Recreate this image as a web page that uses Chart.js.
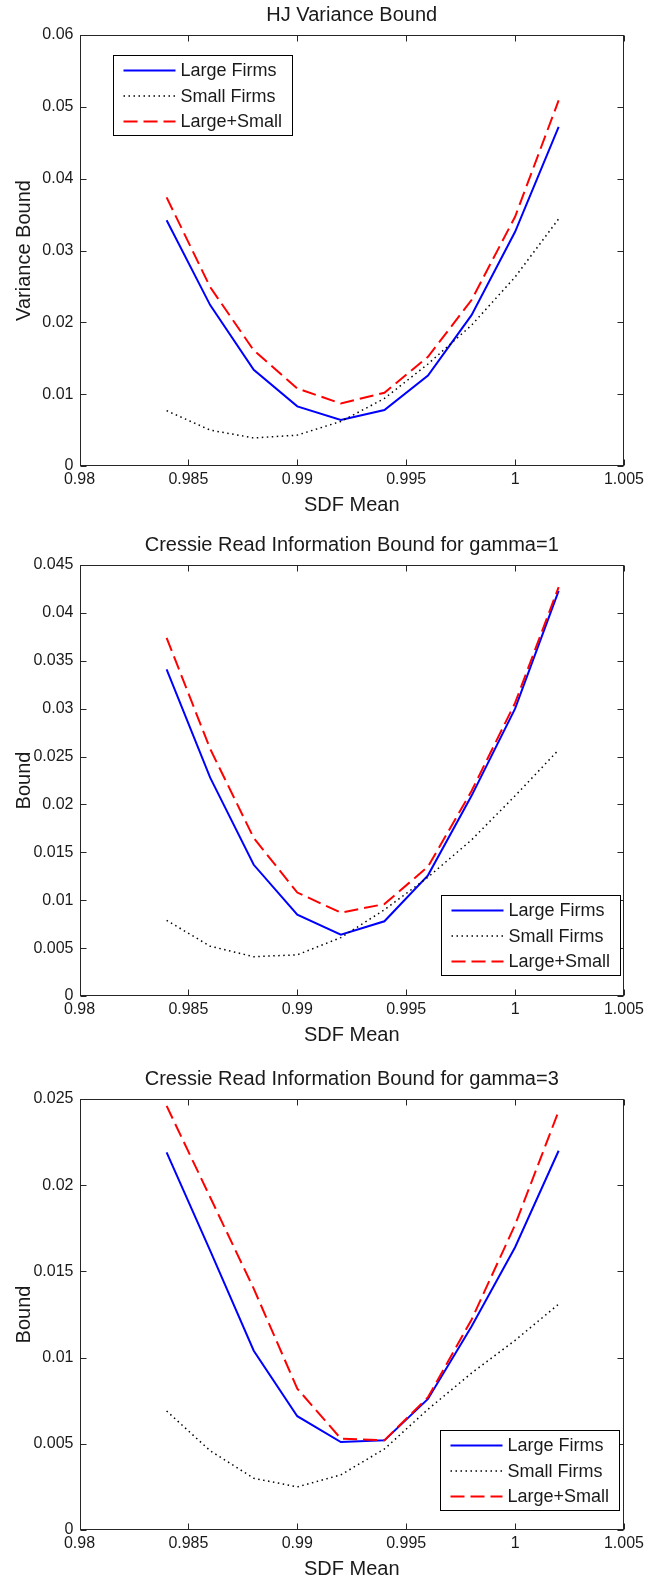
<!DOCTYPE html>
<html>
<head>
<meta charset="utf-8">
<title>SDF Bounds</title>
<script src="https://cdn.jsdelivr.net/npm/chart.js@4/dist/chart.umd.min.js"></script>
<style>
    body { margin: 0; background: #fff; }
    .panel { position: absolute; left: 0; }
</style>
</head>
<body>
<canvas id="hjChart" class="panel" width="648" height="519" style="top:0px"></canvas>
<canvas id="cr1Chart" class="panel" width="648" height="519" style="top:530px"></canvas>
<canvas id="cr3Chart" class="panel" width="648" height="519" style="top:1064px"></canvas>
<script>
// ============================================================
// DATA
// ============================================================
const sdfMean = [0.984, 0.986, 0.988, 0.990, 0.992, 0.994, 0.996, 0.998, 1.000, 1.002];

const hjLarge = [0.0342, 0.0224, 0.0134, 0.0083, 0.0064, 0.0078, 0.0126, 0.0210, 0.0326, 0.0472];
const hjSmall = [0.0077, 0.0050, 0.0039, 0.0043, 0.0062, 0.0094, 0.0142, 0.0196, 0.0263, 0.0344];
const hjBoth  = [0.0374, 0.0249, 0.0161, 0.0108, 0.0087, 0.0102, 0.0152, 0.0231, 0.0347, 0.0509];

const cr1Large = [0.0341, 0.0228, 0.0137, 0.0085, 0.0064, 0.0078, 0.0126, 0.0209, 0.0300, 0.0423];
const cr1Small = [0.0079, 0.0052, 0.0041, 0.0043, 0.0061, 0.0090, 0.0124, 0.0163, 0.0209, 0.0257];
const cr1Both  = [0.0374, 0.0258, 0.0165, 0.0108, 0.0087, 0.0096, 0.0135, 0.0214, 0.0306, 0.0427];

const cr3Large = [0.0219, 0.0162, 0.0104, 0.0066, 0.0051, 0.0052, 0.0076, 0.0118, 0.0164, 0.0220];
const cr3Small = [0.0069, 0.0046, 0.0030, 0.0025, 0.0032, 0.0047, 0.0070, 0.0091, 0.0110, 0.0131];
const cr3Both  = [0.0246, 0.0193, 0.0140, 0.0082, 0.0053, 0.0052, 0.0077, 0.0122, 0.0177, 0.0243];

const seriesNames = ['Large Firms', 'Small Firms', 'Large+Small'];

const xTicks = [0.98, 0.985, 0.99, 0.995, 1, 1.005];
const xTickLabels = ['0.98', '0.985', '0.99', '0.995', '1', '1.005'];

const hjTicks = [0, 0.01, 0.02, 0.03, 0.04, 0.05, 0.06];
const hjTickLabels = ['0', '0.01', '0.02', '0.03', '0.04', '0.05', '0.06'];

const cr1Ticks = [0, 0.005, 0.01, 0.015, 0.02, 0.025, 0.03, 0.035, 0.04, 0.045];
const cr1TickLabels = ['0', '0.005', '0.01', '0.015', '0.02', '0.025', '0.03', '0.035', '0.04', '0.045'];

const cr3Ticks = [0, 0.005, 0.01, 0.015, 0.02, 0.025];
const cr3TickLabels = ['0', '0.005', '0.01', '0.015', '0.02', '0.025'];

// ============================================================
// STYLE
// ============================================================
const FONT = "'Liberation Sans', Arial, Helvetica, sans-serif";
const INK = '#1a1a1a';

// ============================================================
// PLUGIN - matlab style box, inward ticks and legend
// ============================================================
const matlabAxes = {
    id: 'matlabAxes',
    afterDatasetsDraw(chart, args, opts) {
        const { ctx, chartArea: a, scales } = chart;
        const L = Math.round(a.left) + 0.5;
        const R = Math.round(a.right) - 0.5;
        const T = Math.round(a.top) + 0.5;
        const B = Math.round(a.bottom) - 0.5;
        const tick = 6;

        ctx.save();
        ctx.strokeStyle = '#262626';
        ctx.lineWidth = 1;
        ctx.strokeRect(L, T, R - L, B - T);

        ctx.beginPath();
        scales.x.ticks.forEach(t => {
            const px = Math.round(scales.x.getPixelForValue(t.value)) + 0.5;
            ctx.moveTo(px, B); ctx.lineTo(px, B - tick);
            ctx.moveTo(px, T); ctx.lineTo(px, T + tick);
        });
        scales.y.ticks.forEach(t => {
            const py = Math.round(scales.y.getPixelForValue(t.value)) + 0.5;
            ctx.moveTo(L, py); ctx.lineTo(L + tick, py);
            ctx.moveTo(R, py); ctx.lineTo(R - tick, py);
        });
        ctx.stroke();

        // legend box
        const lx = Math.round(a.left + opts.x) + 0.5;
        const ly = Math.round(a.top + opts.y) + 0.5;
        const lw = 179, lh = 80;
        ctx.fillStyle = '#fff';
        ctx.fillRect(lx, ly, lw, lh);
        ctx.strokeStyle = '#000';
        ctx.strokeRect(lx, ly, lw, lh);

        ctx.font = '18px ' + FONT;
        ctx.textBaseline = 'middle';
        ctx.textAlign = 'left';
        chart.data.datasets.forEach((ds, i) => {
            const rowY = ly + 15 + i * 25.5;
            ctx.save();
            ctx.strokeStyle = ds.borderColor;
            ctx.lineWidth = ds.borderWidth;
            ctx.setLineDash(ds.borderDash || []);
            ctx.beginPath();
            ctx.moveTo(lx + 10, rowY);
            ctx.lineTo(lx + 62, rowY);
            ctx.stroke();
            ctx.restore();
            ctx.fillStyle = INK;
            ctx.fillText(ds.label, lx + 67, rowY + 1);
        });
        ctx.restore();
    }
};

// ============================================================
// BUILD CHART
// ============================================================
function toPoints(values) {
    return sdfMean.map((x, i) => ({ x: x, y: values[i] }));
}

function buildChart(canvasId, title, yTitle, large, small, both, yTicks, yTickLabels, legendPos) {
    const ctx = document.getElementById(canvasId);
    const yMax = yTicks[yTicks.length - 1];

    return new Chart(ctx.getContext('2d'), {
        type: 'line',
        data: {
            datasets: [
                {
                    label: seriesNames[0],
                    data: toPoints(large),
                    borderColor: '#0000ff',
                    borderWidth: 2,
                    order: 2
                },
                {
                    label: seriesNames[1],
                    data: toPoints(small),
                    borderColor: '#000000',
                    borderWidth: 1.5,
                    borderDash: [1.5, 3.5],
                    order: 1
                },
                {
                    label: seriesNames[2],
                    data: toPoints(both),
                    borderColor: '#ff0000',
                    borderWidth: 2,
                    borderDash: [14, 6],
                    order: 0
                }
            ]
        },
        options: {
            responsive: false,
            animation: false,
            devicePixelRatio: 1,
            elements: {
                point: { radius: 0 },
                line: { tension: 0, fill: false }
            },
            layout: { padding: { left: 0, right: 20, top: 0, bottom: 0 } },
            plugins: {
                legend: { display: false },
                tooltip: { enabled: false },
                title: {
                    display: true,
                    text: title,
                    fullSize: false,
                    color: INK,
                    font: { family: FONT, size: 20, weight: 'normal' },
                    padding: { top: 3, bottom: 8 }
                },
                matlabAxes: legendPos
            },
            scales: {
                x: {
                    type: 'linear',
                    min: 0.98,
                    max: 1.005,
                    afterBuildTicks: scale => { scale.ticks = xTicks.map(v => ({ value: v })); },
                    afterFit: scale => { scale.height = 53; },
                    grid: { display: false, drawTicks: false },
                    border: { display: false },
                    ticks: {
                        autoSkip: false,
                        maxRotation: 0,
                        padding: 4,
                        color: INK,
                        font: { family: FONT, size: 16 },
                        callback: (v, i) => xTickLabels[i]
                    },
                    title: {
                        display: true,
                        text: 'SDF Mean',
                        color: INK,
                        font: { family: FONT, size: 20 },
                        padding: { top: 0, bottom: 2 }
                    }
                },
                y: {
                    type: 'linear',
                    min: 0,
                    max: yMax,
                    afterBuildTicks: scale => { scale.ticks = yTicks.map(v => ({ value: v })); },
                    afterFit: scale => { scale.width = 79.5; },
                    grid: { display: false, drawTicks: false },
                    border: { display: false },
                    ticks: {
                        padding: 6,
                        color: INK,
                        font: { family: FONT, size: 16 },
                        callback: (v, i) => yTickLabels[i]
                    },
                    title: {
                        display: true,
                        text: yTitle,
                        color: INK,
                        font: { family: FONT, size: 20 },
                        padding: { top: 12, bottom: 0 }
                    }
                }
            }
        },
        plugins: [matlabAxes]
    });
}

buildChart('hjChart', 'HJ Variance Bound', 'Variance Bound',
    hjLarge, hjSmall, hjBoth, hjTicks, hjTickLabels, { x: 33, y: 20 });

buildChart('cr1Chart', 'Cressie Read Information Bound for gamma=1', 'Bound',
    cr1Large, cr1Small, cr1Both, cr1Ticks, cr1TickLabels, { x: 361, y: 330 });

buildChart('cr3Chart', 'Cressie Read Information Bound for gamma=3', 'Bound',
    cr3Large, cr3Small, cr3Both, cr3Ticks, cr3TickLabels, { x: 360, y: 331 });
</script>
</body>
</html>
